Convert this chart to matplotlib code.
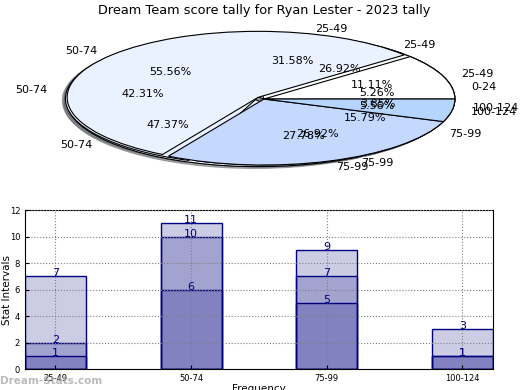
import numpy as np
import matplotlib
matplotlib.use("Agg")
import matplotlib.pyplot as plt

# pie data (three tallies drawn on top of each other)
labels_a = ["0-24", "25-49", "50-74", "75-99"]
values_a = [1, 6, 9, 3]
labels_b = ["25-49", "50-74", "75-99", "100-124"]
values_b = [7, 11, 7, 1]
labels_c = ["25-49", "50-74", "75-99", "100-124"]
values_c = [2, 10, 5, 1]

pie_colors = {"0-24": "#ffffff", "25-49": "#ffffff", "50-74": "#eaf1ff",
              "75-99": "#c5d9ff", "100-124": "#b5d5ff"}

# bar data
bar_cats = ["25-49", "50-74", "75-99", "100-124"]
bar_high = [7, 11, 9, 3]
bar_mid = [2, 10, 7, 1]
bar_low = [1, 6, 5, 1]

fig = plt.figure(figsize=(5.2, 3.9), dpi=100)

# ---- pie ----
ax1 = fig.add_axes([0.0486, 0.5346, 0.918, 0.423])
for labs, vals in [(labels_a, values_a), (labels_b, values_b), (labels_c, values_c)]:
    expl = [0.04 if v == max(vals) else 0 for v in vals]
    wedges, texts, autotexts = ax1.pie(vals, labels=labs, explode=expl,
                                       shadow={"ox": -0.012, "oy": -0.02, "shade": 0.6},
                                       autopct="%.2f%%", startangle=0,
                                       colors=[pie_colors[l] for l in labs],
                                       wedgeprops={"edgecolor": "black", "linewidth": 0.8},
                                       textprops={"fontsize": 8})
ax1.set_aspect("auto")
ax1.set_xlim(-1.25, 1.25)
ax1.set_ylim(-1.25, 1.25)
ax1.set_title("Dream Team score tally for Ryan Lester - 2023 tally", fontsize=9.3, pad=2)

# ---- bars ----
ax2 = fig.add_axes([0.048, 0.0538, 0.9, 0.4077])
x = np.arange(len(bar_cats))
width = 0.45
for vals in [bar_high, bar_mid, bar_low]:
    ax2.bar(x, vals, width, align="edge", color="navy", alpha=0.2, edgecolor="none")
    ax2.bar(x, vals, width, align="edge", fill=False, edgecolor="navy", linewidth=1)
    for xi, v in zip(x, vals):
        ax2.text(xi + width / 2, v - 0.15, str(v), ha="center", va="bottom", color="navy", fontsize=8)

ax2.set_xlim(0, 3.45)
ax2.set_ylim(0, 12)
ax2.set_yticks(range(0, 13, 2))
ax2.set_xticks(x + width / 2)
ax2.set_xticklabels(bar_cats)
ax2.tick_params(labelsize=6, direction="in", length=3)
ax2.grid(True, linestyle=":", color="gray", linewidth=0.8)
ax2.set_axisbelow(False)
ax2.set_ylabel("Stat Intervals", fontsize=7.5)
ax2.yaxis.set_label_coords(-0.028, 0.5)
ax2.set_xlabel("Frequency", fontsize=7.5, labelpad=1)

fig.text(0.0, 1 - 381 / 390, "Dream-Stats.com", fontsize=7.5, fontweight="bold",
         color="#aaaaaa", alpha=0.8, ha="left", va="center")

fig.savefig("out.png", dpi=100)
